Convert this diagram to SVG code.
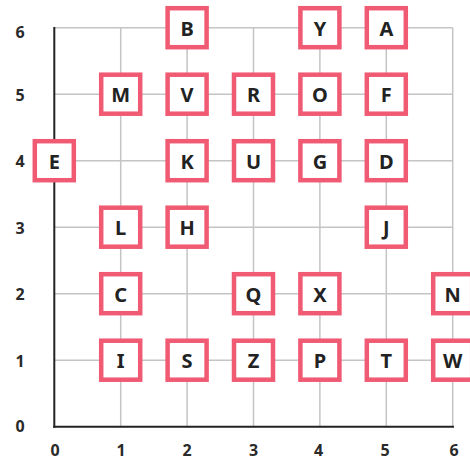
<svg xmlns="http://www.w3.org/2000/svg" width="470" height="461" viewBox="0 0 470 461">
<style>
.grid line{stroke:#c4c4c4;stroke-width:1.5}
.axis{stroke:#222;stroke-width:2}
.tick{font-family:"Noto Sans","Liberation Sans",sans-serif;font-weight:bold;font-size:16px;fill:#2a2a2a;text-anchor:middle;dominant-baseline:central}
.node rect{fill:#fff;stroke:#f05a73;stroke-width:4.5}
.node text{font-family:"Noto Sans","Liberation Sans",sans-serif;font-weight:bold;font-size:20px;fill:#222;text-anchor:middle;dominant-baseline:central}
</style>
<rect width="470" height="461" fill="#fff"/>
<g id="connectors" class="grid">
<line x1="120.7" y1="27.7" x2="120.7" y2="426.7"/>
<line x1="187.1" y1="27.7" x2="187.1" y2="426.7"/>
<line x1="253.5" y1="27.7" x2="253.5" y2="426.7"/>
<line x1="319.9" y1="27.7" x2="319.9" y2="426.7"/>
<line x1="386.3" y1="27.7" x2="386.3" y2="426.7"/>
<line x1="452.7" y1="27.7" x2="452.7" y2="426.7"/>
<line x1="54.3" y1="27.7" x2="452.7" y2="27.7"/>
<line x1="54.3" y1="94.2" x2="452.7" y2="94.2"/>
<line x1="54.3" y1="160.7" x2="452.7" y2="160.7"/>
<line x1="54.3" y1="227.2" x2="452.7" y2="227.2"/>
<line x1="54.3" y1="293.7" x2="452.7" y2="293.7"/>
<line x1="54.3" y1="360.2" x2="452.7" y2="360.2"/>
</g>
<g id="axes">
<line class="axis" x1="54.3" y1="27" x2="54.3" y2="427.7"/>
<line class="axis" x1="53.3" y1="426.7" x2="454" y2="426.7"/>
<text class="tick" x="20" y="32">6</text>
<text class="tick" x="20" y="95">5</text>
<text class="tick" x="20" y="161">4</text>
<text class="tick" x="20" y="228">3</text>
<text class="tick" x="20" y="294">2</text>
<text class="tick" x="20" y="360.5">1</text>
<text class="tick" x="20" y="426">0</text>
<text class="tick" x="55" y="450">0</text>
<text class="tick" x="121" y="450">1</text>
<text class="tick" x="187" y="450">2</text>
<text class="tick" x="253.5" y="450">3</text>
<text class="tick" x="318.5" y="450">4</text>
<text class="tick" x="385" y="450">5</text>
<text class="tick" x="454" y="450">6</text>
</g>
<g id="node-B" class="node"><rect x="167.6" y="8.2" width="39" height="39"/><text x="187.1" y="28.2">B</text></g>
<g id="node-Y" class="node"><rect x="300.4" y="8.2" width="39" height="39"/><text x="319.9" y="28.2">Y</text></g>
<g id="node-A" class="node"><rect x="366.8" y="8.2" width="39" height="39"/><text x="386.3" y="28.2">A</text></g>
<g id="node-M" class="node"><rect x="101.2" y="74.7" width="39" height="39"/><text x="120.7" y="94.7">M</text></g>
<g id="node-V" class="node"><rect x="167.6" y="74.7" width="39" height="39"/><text x="187.1" y="94.7">V</text></g>
<g id="node-R" class="node"><rect x="234" y="74.7" width="39" height="39"/><text x="253.5" y="94.7">R</text></g>
<g id="node-O" class="node"><rect x="300.4" y="74.7" width="39" height="39"/><text x="319.9" y="94.7">O</text></g>
<g id="node-F" class="node"><rect x="366.8" y="74.7" width="39" height="39"/><text x="386.3" y="94.7">F</text></g>
<g id="node-E" class="node"><rect x="34.8" y="141.2" width="39" height="39"/><text x="54.3" y="161.2">E</text></g>
<g id="node-K" class="node"><rect x="167.6" y="141.2" width="39" height="39"/><text x="187.1" y="161.2">K</text></g>
<g id="node-U" class="node"><rect x="234" y="141.2" width="39" height="39"/><text x="253.5" y="161.2">U</text></g>
<g id="node-G" class="node"><rect x="300.4" y="141.2" width="39" height="39"/><text x="319.9" y="161.2">G</text></g>
<g id="node-D" class="node"><rect x="366.8" y="141.2" width="39" height="39"/><text x="386.3" y="161.2">D</text></g>
<g id="node-L" class="node"><rect x="101.2" y="207.7" width="39" height="39"/><text x="120.7" y="227.7">L</text></g>
<g id="node-H" class="node"><rect x="167.6" y="207.7" width="39" height="39"/><text x="187.1" y="227.7">H</text></g>
<g id="node-J" class="node"><rect x="366.8" y="207.7" width="39" height="39"/><text x="386.3" y="227.7">J</text></g>
<g id="node-C" class="node"><rect x="101.2" y="274.2" width="39" height="39"/><text x="120.7" y="294.2">C</text></g>
<g id="node-Q" class="node"><rect x="234" y="274.2" width="39" height="39"/><text x="253.5" y="294.2">Q</text></g>
<g id="node-X" class="node"><rect x="300.4" y="274.2" width="39" height="39"/><text x="319.9" y="294.2">X</text></g>
<g id="node-N" class="node"><rect x="433.2" y="274.2" width="39" height="39"/><text x="452.7" y="294.2">N</text></g>
<g id="node-I" class="node"><rect x="101.2" y="340.7" width="39" height="39"/><text x="120.7" y="360.7">I</text></g>
<g id="node-S" class="node"><rect x="167.6" y="340.7" width="39" height="39"/><text x="187.1" y="360.7">S</text></g>
<g id="node-Z" class="node"><rect x="234" y="340.7" width="39" height="39"/><text x="253.5" y="360.7">Z</text></g>
<g id="node-P" class="node"><rect x="300.4" y="340.7" width="39" height="39"/><text x="319.9" y="360.7">P</text></g>
<g id="node-T" class="node"><rect x="366.8" y="340.7" width="39" height="39"/><text x="386.3" y="360.7">T</text></g>
<g id="node-W" class="node"><rect x="433.2" y="340.7" width="39" height="39"/><text x="452.7" y="360.7">W</text></g>
</svg>
